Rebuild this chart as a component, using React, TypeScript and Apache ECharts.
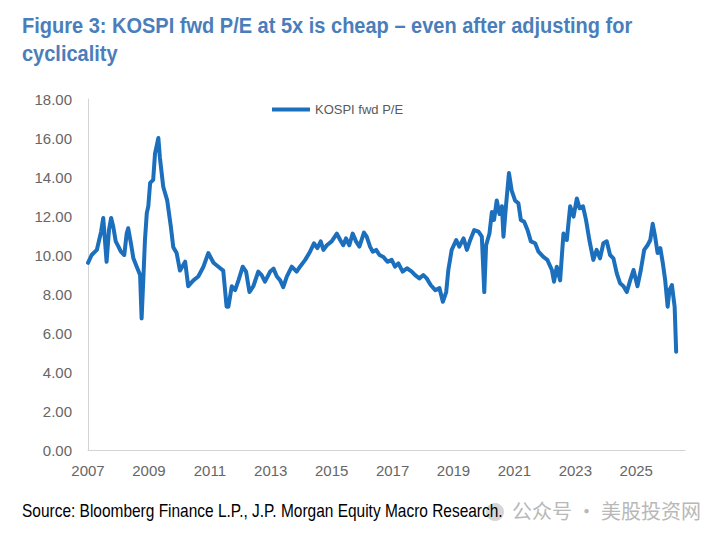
import React, { useEffect, useRef } from "react";
import * as echarts from "echarts";

const seriesName = "KOSPI fwd P/E";
const titleLine1 = "Figure 3: KOSPI fwd P/E at 5x is cheap \u2013 even after adjusting for";
const titleLine2 = "cyclicality";
const sourceText = "Source: Bloomberg Finance L.P., J.P. Morgan Equity Macro Research.";
const watermarkText = "公众号 · 美股投资网";

const years = [
  2007.0, 2007.12, 2007.29, 2007.43, 2007.5, 2007.58, 2007.61, 2007.69, 2007.76, 2007.83,
  2007.91, 2008.0, 2008.08, 2008.19, 2008.27, 2008.32, 2008.41, 2008.49, 2008.6, 2008.71,
  2008.76, 2008.82, 2008.87, 2008.93, 2008.98, 2009.04, 2009.14, 2009.2, 2009.31, 2009.36,
  2009.47, 2009.6, 2009.72, 2009.8, 2009.91, 2010.02, 2010.19, 2010.29, 2010.46, 2010.62,
  2010.79, 2010.95, 2011.12, 2011.28, 2011.44, 2011.55, 2011.61, 2011.72, 2011.83, 2011.94,
  2012.08, 2012.19, 2012.3, 2012.43, 2012.59, 2012.7, 2012.81, 2012.98, 2013.09, 2013.2,
  2013.31, 2013.41, 2013.53, 2013.69, 2013.85, 2013.96, 2014.13, 2014.29, 2014.42, 2014.53,
  2014.64, 2014.73, 2014.84, 2015.0, 2015.17, 2015.28, 2015.38, 2015.47, 2015.58, 2015.69,
  2015.8, 2015.91, 2016.06, 2016.15, 2016.26, 2016.35, 2016.46, 2016.57, 2016.7, 2016.83,
  2016.97, 2017.08, 2017.19, 2017.33, 2017.47, 2017.63, 2017.74, 2017.88, 2018.01, 2018.12,
  2018.25, 2018.4, 2018.54, 2018.65, 2018.76, 2018.83, 2018.94, 2019.09, 2019.19, 2019.33,
  2019.44, 2019.55, 2019.68, 2019.82, 2019.93, 2020.01, 2020.07, 2020.18, 2020.26, 2020.33,
  2020.42, 2020.51, 2020.59, 2020.64, 2020.73, 2020.82, 2020.91, 2021.02, 2021.13, 2021.21,
  2021.32, 2021.43, 2021.54, 2021.68, 2021.79, 2021.95, 2022.08, 2022.23, 2022.3, 2022.39,
  2022.5, 2022.61, 2022.72, 2022.83, 2022.94, 2023.05, 2023.14, 2023.25, 2023.35, 2023.46,
  2023.59, 2023.7, 2023.81, 2023.92, 2024.03, 2024.14, 2024.25, 2024.36, 2024.47, 2024.58,
  2024.69, 2024.8, 2024.91, 2025.04, 2025.15, 2025.26, 2025.37, 2025.46, 2025.54, 2025.62,
  2025.7, 2025.79, 2025.87, 2025.95, 2026.03, 2026.09, 2026.17, 2026.26, 2026.31,
];

const peValues = [
  9.6, 10.0, 10.26, 11.2, 11.9, 10.26, 9.65, 11.3, 11.9, 11.45,
  10.7, 10.43, 10.17, 10.0, 11.1, 11.37, 10.6, 9.83, 9.4, 8.97,
  6.75, 8.9, 10.77, 12.15, 12.5, 13.7, 13.85, 15.2, 16.0, 15.0,
  13.5, 12.8, 11.45, 10.4, 10.1, 9.2, 9.66, 8.4, 8.7, 8.9,
  9.4, 10.1, 9.6, 9.4, 9.2, 7.35, 7.35, 8.4, 8.2, 8.7,
  9.4, 9.15, 8.1, 8.4, 9.15, 8.97, 8.63, 9.15, 9.3, 8.9,
  8.7, 8.35, 8.9, 9.4, 9.15, 9.4, 9.75, 10.17, 10.6, 10.35,
  10.7, 10.26, 10.5, 10.7, 11.1, 10.77, 10.5, 10.85, 10.5, 11.1,
  10.7, 10.43, 11.15, 10.94, 10.43, 10.17, 10.26, 10.0, 9.9, 9.65,
  9.75, 9.4, 9.57, 9.15, 9.32, 9.15, 8.97, 8.8, 8.97, 8.8,
  8.46, 8.2, 8.3, 7.6, 8.1, 9.23, 10.26, 10.77, 10.43, 10.85,
  10.26, 10.77, 11.28, 11.2, 10.94, 8.1, 10.5, 11.1, 12.2, 11.8,
  12.8, 12.1, 12.5, 10.94, 12.65, 14.2, 13.3, 12.8, 12.65, 11.8,
  11.7, 11.28, 10.7, 10.6, 10.17, 9.9, 9.75, 9.23, 8.63, 9.4,
  8.7, 11.1, 10.77, 12.5, 11.97, 12.9, 12.4, 12.5, 11.8, 10.77,
  9.75, 10.26, 9.83, 10.6, 10.7, 10.0, 9.83, 9.06, 8.55, 8.4,
  8.1, 8.7, 9.23, 8.4, 9.23, 10.26, 10.5, 10.77, 11.6, 10.94,
  10.1, 10.35, 9.6, 8.7, 7.35, 8.2, 8.46, 7.35, 5.04,
];

const yTicks = [0, 2, 4, 6, 8, 10, 12, 14, 16, 18];
const xLabelYears = [2007, 2009, 2011, 2013, 2015, 2017, 2019, 2021, 2023, 2025];

const LATIN = "'Liberation Sans', Arial, sans-serif";
const CJK = "'Noto Sans CJK SC', sans-serif";

export default function App() {
  const ref = useRef<HTMLDivElement>(null);

  useEffect(() => {
    if (!ref.current) return;
    const chart = echarts.init(ref.current, undefined, { renderer: "svg" });
    const data = years.map((y, i) => [y, peValues[i]]);
    chart.setOption({
      animation: false,
      backgroundColor: "#ffffff",
      grid: { left: 88, right: 33, top: 99, bottom: 90, containLabel: false },
      legend: {
        data: [seriesName],
        left: 267,
        top: 98,
        icon: "rect",
        itemWidth: 38,
        itemHeight: 4,
        itemGap: 10,
        textStyle: { fontFamily: LATIN, fontSize: 13, color: "#595959" },
      },
      xAxis: {
        type: "value",
        min: 2007,
        max: 2026.6,
        interval: 1,
        axisLine: { show: true, lineStyle: { color: "#d4d4d4", width: 1 } },
        axisTick: { show: false },
        splitLine: { show: false },
        axisLabel: {
          margin: 13,
          fontFamily: LATIN,
          fontSize: 15,
          color: "#666666",
          showMaxLabel: false,
          formatter: (v: number) => (xLabelYears.includes(v) ? String(v) : ""),
        },
      },
      yAxis: {
        type: "value",
        min: yTicks[0],
        max: yTicks[yTicks.length - 1],
        interval: 2,
        axisLine: { show: true, lineStyle: { color: "#d4d4d4", width: 1 } },
        axisTick: { show: false },
        splitLine: { show: false },
        axisLabel: {
          margin: 16,
          fontFamily: LATIN,
          fontSize: 15,
          color: "#666666",
          formatter: (v: number) => v.toFixed(2),
        },
      },
      series: [
        {
          name: seriesName,
          type: "line",
          data,
          showSymbol: false,
          symbol: "none",
          lineStyle: { color: "#1b6fbd", width: 4, join: "round", cap: "round" },
          itemStyle: { color: "#1b6fbd" },
        },
      ],
      graphic: [
        {
          type: "circle",
          z: 1,
          shape: { cx: 495, cy: 512, r: 9 },
          style: { fill: "#cfcfcf", opacity: 0.85 },
        },
        {
          type: "text",
          z: 2,
          x: 22,
          y: 14,
          scaleX: 0.91,
          style: { text: titleLine1, font: `bold 22px ${LATIN}`, fill: "#4a7ebb", verticalAlign: "top" },
        },
        {
          type: "text",
          z: 2,
          x: 22,
          y: 42,
          scaleX: 0.91,
          style: { text: titleLine2, font: `bold 22px ${LATIN}`, fill: "#4a7ebb", verticalAlign: "top" },
        },
        {
          type: "text",
          z: 2,
          x: 22,
          y: 502,
          scaleX: 0.86,
          style: { text: sourceText, font: `18px ${LATIN}`, fill: "#000000", verticalAlign: "top" },
        },
        {
          type: "text",
          z: 2,
          x: 512,
          y: 500,
          style: { text: watermarkText, font: `20px ${CJK}`, fill: "#b8b8b8", verticalAlign: "top" },
        },
      ],
    });
    return () => chart.dispose();
  }, []);

  return <div ref={ref} style={{ width: 718, height: 540, margin: -8 }} />;
}
